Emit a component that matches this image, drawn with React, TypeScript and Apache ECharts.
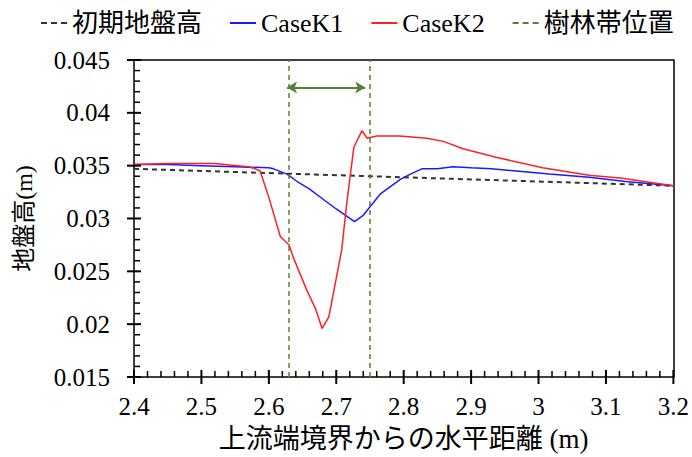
import React, { useEffect, useRef } from "react";
import * as echarts from "echarts";

const initX = [2.4, 3.2];
const initY = [0.0347, 0.0331];

const k1X = [2.4, 2.45, 2.5, 2.55, 2.6, 2.607, 2.627, 2.642, 2.66, 2.681, 2.7, 2.716, 2.727, 2.74, 2.765, 2.795, 2.81, 2.827, 2.85, 2.873, 2.9, 2.93, 2.967, 3.016, 3.075, 3.129, 3.2];
const k1Y = [0.0351, 0.0351, 0.035, 0.0349, 0.0348, 0.0347, 0.0342, 0.0335, 0.0328, 0.0318, 0.0309, 0.0302, 0.0297, 0.0303, 0.0323, 0.0337, 0.0342, 0.0347, 0.0347, 0.0349, 0.0348, 0.0347, 0.0345, 0.0342, 0.0339, 0.0335, 0.0331];

const k2X = [2.4, 2.45, 2.475, 2.52, 2.553, 2.57, 2.58, 2.587, 2.6, 2.617, 2.63, 2.637, 2.657, 2.669, 2.679, 2.689, 2.708, 2.716, 2.726, 2.728, 2.738, 2.746, 2.76, 2.794, 2.834, 2.859, 2.888, 2.937, 3.006, 3.075, 3.124, 3.2];
const k2Y = [0.0351, 0.0352, 0.0352, 0.0352, 0.035, 0.0349, 0.0347, 0.0345, 0.032, 0.0283, 0.0275, 0.0262, 0.0231, 0.0215, 0.0196, 0.0207, 0.027, 0.0317, 0.0367, 0.037, 0.0383, 0.0376, 0.0378, 0.0378, 0.0376, 0.0373, 0.0366, 0.0358, 0.0348, 0.0341, 0.0338, 0.0331];

const forestX = [2.625, 2.745];
const arrowY = 0.0424;

const xTicks = [2.4, 2.5, 2.6, 2.7, 2.8, 2.9, 3.0, 3.1, 3.2];
const yTicks = [0.015, 0.02, 0.025, 0.03, 0.035, 0.04, 0.045];

const names = ["初期地盤高", "CaseK1", "CaseK2", "樹林帯位置"];

const zip = (xs: number[], ys: number[]) => xs.map((x, i) => [x, ys[i]]);

const FONT = "'Liberation Serif', 'Noto Sans CJK JP', serif";
const GREEN = "#548235";
const DASH_ICON = "path://M0,0h6v2h-6zM10,0h6v2h-6zM20,0h6v2h-6z";
const SOLID_ICON = "path://M0,0h26v2h-26z";

const X_MIN = 2.4, X_MAX = 3.2, X_INT = 0.1;
const Y_MIN = 0.015, Y_MAX = 0.045, Y_INT = 0.005;
const MINOR = 5;

const lineS = () => ({ color: "#000", width: 1.5 });

// tick marks: [x, y, isMajor, orient(0 = x axis, 1 = y axis)]
function buildTicks() {
  const out: number[][] = [];
  xTicks.forEach((t, i) => {
    out.push([t, Y_MIN, 1, 0]);
    if (i < xTicks.length - 1) {
      const step = (xTicks[i + 1] - t) / MINOR;
      for (let k = 1; k < MINOR; k++) out.push([t + step * k, Y_MIN, 0, 0]);
    }
  });
  yTicks.forEach((t, i) => {
    out.push([X_MIN, t, 1, 1]);
    if (i < yTicks.length - 1) {
      const step = (yTicks[i + 1] - t) / MINOR;
      for (let k = 1; k < MINOR; k++) out.push([X_MIN, t + step * k, 0, 1]);
    }
  });
  return out;
}

export default function App() {
  const ref = useRef<HTMLDivElement>(null);
  useEffect(() => {
    const chart = echarts.init(ref.current!, null, { renderer: "svg" });
    const tickLabel = { fontFamily: FONT, fontSize: 25, color: "#000" };
    const baseX = { type: "value", min: X_MIN, max: X_MAX, interval: X_INT, splitLine: { show: false } };
    const baseY = { type: "value", min: Y_MIN, max: Y_MAX, interval: Y_INT, splitLine: { show: false } };
    chart.setOption({
      animation: false,
      backgroundColor: "#fff",
      grid: { left: 134, right: 15, top: 60, bottom: 80 },
      legend: {
        data: [
          { name: names[0], icon: DASH_ICON, itemStyle: { color: "#333" } },
          { name: names[1], icon: SOLID_ICON, itemStyle: { color: "#1a1aff" } },
          { name: names[2], icon: SOLID_ICON, itemStyle: { color: "#ff2020" } },
          { name: names[3], icon: DASH_ICON, itemStyle: { color: GREEN } },
        ],
        top: 5,
        left: 36,
        itemWidth: 26,
        itemHeight: 2,
        itemGap: 28,
        textStyle: { fontFamily: FONT, fontSize: 26, color: "#000" },
      },
      xAxis: [
        {
          ...baseX,
          position: "bottom",
          axisLine: { show: true, lineStyle: lineS() },
          axisTick: { show: false },
          axisLabel: { ...tickLabel, margin: 17 },
          name: "上流端境界からの水平距離 (m)",
          nameLocation: "middle",
          nameGap: 48,
          nameTextStyle: { fontFamily: FONT, fontSize: 27, color: "#000" },
        },
        {
          ...baseX,
          position: "top",
          axisLine: { show: true, lineStyle: lineS() },
          axisTick: { show: false },
          axisLabel: { show: false },
        },
      ],
      yAxis: [
        {
          ...baseY,
          position: "left",
          axisLine: { show: true, lineStyle: lineS() },
          axisTick: { show: false },
          axisLabel: { ...tickLabel, margin: 24 },
          name: "地盤高(m)",
          nameLocation: "middle",
          nameGap: 98,
          nameTextStyle: { fontFamily: FONT, fontSize: 24, color: "#000" },
        },
        {
          ...baseY,
          position: "right",
          axisLine: { show: true, lineStyle: lineS() },
          axisTick: { show: false },
          axisLabel: { show: false },
        },
      ],
      series: [
        {
          name: names[0],
          type: "line",
          symbol: "none",
          data: zip(initX, initY),
          lineStyle: { color: "#333", width: 2, type: [5, 4] },
          itemStyle: { color: "#333" },
          z: 3,
        },
        {
          name: names[1],
          type: "line",
          symbol: "none",
          data: zip(k1X, k1Y),
          lineStyle: { color: "#1a1aff", width: 1.5 },
          itemStyle: { color: "#1a1aff" },
          z: 4,
        },
        {
          name: names[2],
          type: "line",
          symbol: "none",
          data: zip(k2X, k2Y),
          lineStyle: { color: "#ff2020", width: 1.5 },
          itemStyle: { color: "#ff2020" },
          z: 5,
        },
        {
          name: names[3],
          type: "line",
          symbol: "none",
          data: [],
          lineStyle: { color: GREEN, width: 1.5, type: [5, 4] },
          itemStyle: { color: GREEN },
          markLine: {
            silent: true,
            symbol: "none",
            label: { show: false },
            lineStyle: { color: GREEN, width: 1.5, type: [5, 4] },
            data: forestX.map((x) => ({ xAxis: x })),
          },
        },
        {
          name: "arrow",
          type: "line",
          symbol: "none",
          data: [],
          markLine: {
            silent: true,
            symbol: ["arrow", "arrow"],
            symbolSize: [9, 10],
            label: { show: false },
            lineStyle: { color: GREEN, width: 2, type: "solid" },
            data: [[{ coord: [forestX[0] + 0.002, arrowY] }, { coord: [forestX[1] - 0.002, arrowY] }]],
          },
        },
        {
          name: "ticks",
          type: "custom",
          silent: true,
          clip: false,
          z: 10,
          data: buildTicks(),
          renderItem: (params: any, api: any) => {
            const major = api.value(2) === 1;
            const orient = api.value(3);
            const p = api.coord([api.value(0), api.value(1)]);
            const inner = major ? 7 : 6;
            const outer = major ? 7 : 0;
            const shape =
              orient === 0
                ? { x1: p[0], y1: p[1] + outer, x2: p[0], y2: p[1] - inner }
                : { x1: p[0] - outer, y1: p[1], x2: p[0] + inner, y2: p[1] };
            return {
              type: "line",
              shape,
              style: { stroke: "#000", lineWidth: major ? 2 : 1.5 },
            };
          },
        },
      ],
    });
    return () => chart.dispose();
  }, []);
  return <div ref={ref} style={{ width: 692, height: 457, position: "absolute", left: 0, top: 0 }} />;
}
